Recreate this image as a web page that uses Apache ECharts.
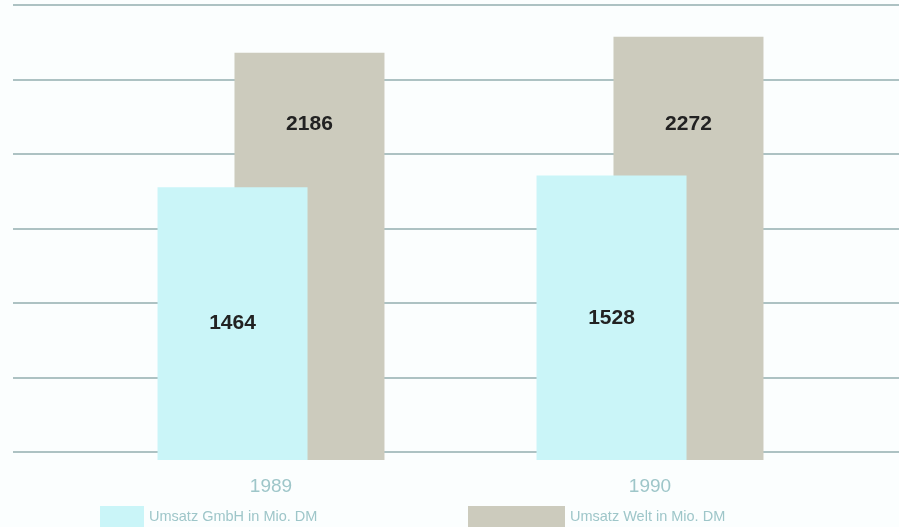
<!DOCTYPE html>
<html>
<head>
<meta charset="utf-8">
<style>
html,body{margin:0;padding:0;background:#fbfefe;}
#chart{width:899px;height:527px;}
</style>
<script src="https://cdn.jsdelivr.net/npm/echarts@6/dist/echarts.min.js"></script>
</head>
<body>
<div id="chart"></div>
<script>
// Data
const years = ['1989', '1990'];
const umsatzGmbH = [1464, 1528];
const umsatzWelt = [2186, 2272];
const seriesNames = ['Umsatz GmbH in Mio. DM', 'Umsatz Welt in Mio. DM'];
const gridTicksMax = 2400;
const gridTickStep = 400;

const cyan = '#caf5f8';
const grey = '#cccbbd';
const textTeal = '#9ec6c9';
const fontFam = 'Liberation Sans, Arial, sans-serif';

const chart = echarts.init(document.getElementById('chart'));

const labelFont = {color: '#222', fontSize: 21, fontWeight: 'bold', fontFamily: fontFam};

const option = {
  backgroundColor: '#fbfefe',
  animation: false,
  grid: [
    {left: 81.5, right: 59.5, top: 13, bottom: 67},   // bars
    {left: 13, right: 0, top: 5, bottom: 75}          // gridlines
  ],
  xAxis: [
    {
      type: 'category', gridIndex: 0, data: years,
      axisLine: {show: false}, axisTick: {show: false},
      axisLabel: {color: textTeal, fontSize: 19, margin: 17, fontFamily: fontFam}
    },
    {type: 'value', gridIndex: 1, show: false, min: 0, max: 1}
  ],
  yAxis: [
    {type: 'value', gridIndex: 0, min: 0, max: gridTicksMax, show: false, splitLine: {show: false}},
    {
      type: 'value', gridIndex: 1, min: 0, max: gridTicksMax, interval: gridTickStep,
      axisLine: {show: false}, axisTick: {show: false}, axisLabel: {show: false},
      splitLine: {show: true, lineStyle: {color: '#adc2c3', width: 2}}
    }
  ],
  legend: [
    {
      data: [seriesNames[0]], left: 100, top: 506, padding: 0, icon: 'rect',
      itemWidth: 44, itemHeight: 21, itemGap: 0, selectedMode: false,
      textStyle: {color: textTeal, fontSize: 14.5, fontFamily: fontFam}
    },
    {
      data: [seriesNames[1]], left: 468, top: 506, padding: 0, icon: 'rect',
      itemWidth: 97, itemHeight: 21, itemGap: 0, selectedMode: false,
      textStyle: {color: textTeal, fontSize: 14.5, fontFamily: fontFam}
    }
  ],
  series: [
    {
      name: seriesNames[0], type: 'bar', xAxisIndex: 0, yAxisIndex: 0,
      data: umsatzGmbH, barWidth: 150, barGap: '-48.7%', z: 4,
      itemStyle: {color: cyan},
      label: Object.assign({show: true, position: 'inside'}, labelFont)
    },
    {
      name: seriesNames[1], type: 'bar', xAxisIndex: 0, yAxisIndex: 0,
      data: umsatzWelt, barWidth: 150, z: 3,
      itemStyle: {color: grey},
      label: Object.assign({show: true, position: 'insideTop', distance: 70}, labelFont)
    }
  ]
};
chart.setOption(option);

// place the grey labels on a common baseline (as in the original print)
const labelCenterY = 126;
const greyData = umsatzWelt.map(function (v, i) {
  const top = chart.convertToPixel({xAxisIndex: 0, yAxisIndex: 0}, [i, v])[1];
  return {value: v, label: {distance: Math.max(0, labelCenterY - top - 12)}};
});
chart.setOption({series: [{}, {data: greyData}]});
</script>
</body>
</html>
